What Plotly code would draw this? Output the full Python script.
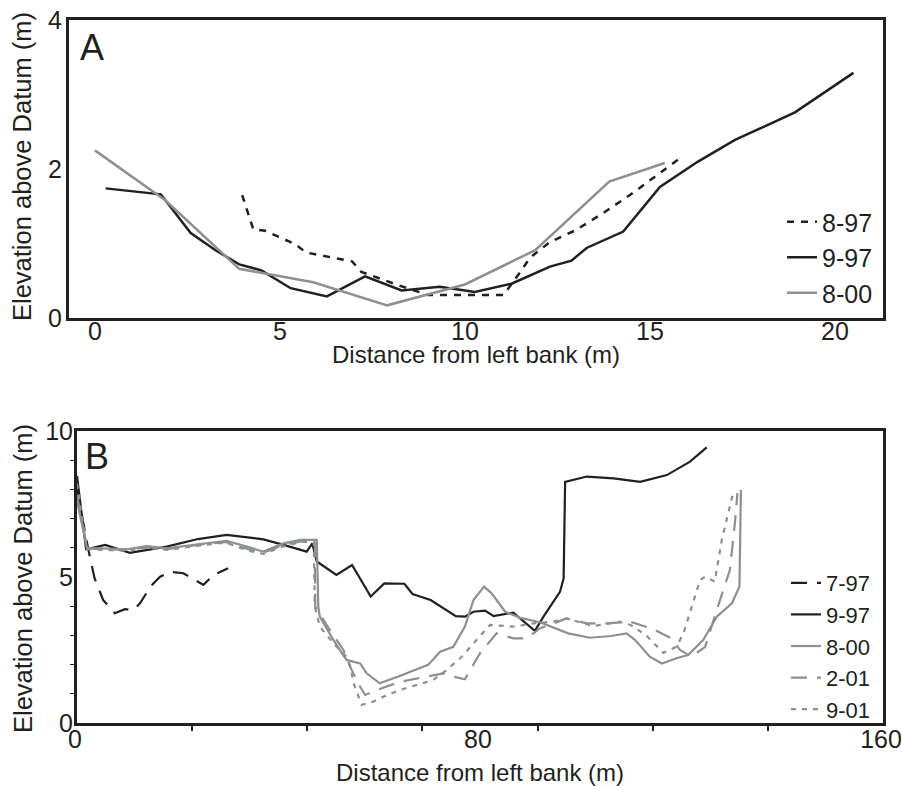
import plotly.graph_objects as go

# ---------------- Panel A data ----------------
a_897_x = [3.98, 4.28, 4.6, 5.42, 5.7, 6.95, 7.2, 8.2, 9.0, 11.05, 11.5, 11.76, 12.3, 13.0, 13.74, 14.46, 15.8]
a_897_y = [1.65, 1.19, 1.17, 0.99, 0.88, 0.76, 0.62, 0.44, 0.31, 0.31, 0.62, 0.81, 1.02, 1.18, 1.41, 1.65, 2.14]

a_997_x = [0.29, 1.78, 2.59, 3.26, 3.9, 4.5, 5.29, 6.27, 7.3, 8.29, 9.32, 10.27, 11.26, 12.3, 12.88,
           13.29, 14.28, 15.27, 16.3, 17.3, 18.92, 20.5]
a_997_y = [1.74, 1.66, 1.14, 0.91, 0.72, 0.64, 0.40, 0.29, 0.56, 0.37, 0.42, 0.35, 0.46, 0.69, 0.77,
           0.94, 1.16, 1.76, 2.10, 2.39, 2.76, 3.29]

a_800_x = [0, 1.9, 3.9, 5.9, 7.9, 10, 11.9, 13.9, 15.4]
a_800_y = [2.25, 1.58, 0.66, 0.48, 0.17, 0.45, 0.91, 1.83, 2.08]

a_x_ticks = [0, 5, 10, 15, 20]
a_y_ticks = [0, 2, 4]

# ---------------- Panel B data ----------------
b_797_x = [0, 2.2, 3.5, 5.2, 7.5, 9.5, 11.2, 12.5, 14.7, 16.5, 18.5, 21.1, 25.1, 27.1, 30]
b_797_y = [8.0, 5.98, 4.95, 4.21, 3.76, 3.9, 3.87, 4.1, 4.7, 5.01, 5.18, 5.13, 4.73, 5.07, 5.3]

b_997_x = [0, 1.8, 5.6, 10.5, 17.8, 24, 29.7, 37, 41, 45.6, 46.7, 47.6, 51.5, 54.6, 58.3, 61, 65, 66.6,
           70.2, 75.2, 77, 78.7, 81, 82.7, 86.6, 90.9, 92.6, 95.9, 96.6, 96.9, 101.2, 106.5, 111.8,
           117.1, 121.7, 125]
b_997_y = [8.46, 5.95, 6.1, 5.83, 6.04, 6.3, 6.44, 6.29, 6.1, 5.87, 6.15, 5.53, 5.07, 5.41, 4.33, 4.78,
           4.77, 4.42, 4.21, 3.66, 3.64, 3.81, 3.85, 3.66, 3.78, 3.16, 3.64, 4.5, 4.95, 8.26, 8.44, 8.38,
           8.26, 8.49, 8.95, 9.44]

b_800_x = [0, 2, 4.6, 9.9, 13.8, 17.8, 24.4, 29.7, 33.7, 37, 41, 44.3, 47.6, 47.9, 48.2, 50.9, 53.5,
           56.2, 57.5, 60.1, 63.8, 67.4, 69.7, 72.1, 74.7, 77, 78.7, 80.8, 82.3, 85, 88, 91.9, 97.5,
           101.8, 106, 109.1, 110.8, 113.7, 116.1, 119, 121.3, 124.3, 127, 130, 131.5, 131.8]
b_800_y = [7.6, 5.98, 5.98, 5.95, 6.06, 5.98, 6.13, 6.24, 6.04, 5.87, 6.15, 6.27, 6.27, 3.98, 3.64,
           2.84, 2.16, 2.04, 1.7, 1.36, 1.59, 1.82, 1.99, 2.44, 2.61, 3.3, 4.21, 4.67, 4.44, 3.81, 3.6,
           3.45, 3.07, 2.92, 2.98, 3.07, 2.84, 2.27, 2.04, 2.22, 2.33, 2.84, 3.64, 4.1, 4.67, 7.98]

b_201_x = [0, 2, 5, 10, 14, 18, 24, 29.5, 34, 37, 41, 44.5, 47.2, 47.3, 50.2, 52.9, 54.2, 56.2, 57.2,
           59.5, 64.1, 69.4, 72.7, 74.7, 77, 80, 83.3, 86.6, 89.3, 91.9, 97.2, 101.2, 105.1, 109.8,
           114.4, 118, 119.7, 122, 124.7, 127, 129.6, 130.6, 131.1]
b_201_y = [7.8, 5.98, 5.95, 5.93, 6.02, 5.95, 6.1, 6.2, 5.95, 5.83, 6.1, 6.22, 6.22, 3.98, 3.18, 2.5,
           1.93, 1.24, 0.96, 1.13, 1.41, 1.59, 1.7, 1.59, 1.5, 2.39, 3.07, 2.9, 2.9, 3.24, 3.58, 3.41,
           3.41, 3.47, 3.21, 2.9, 2.5, 2.27, 2.61, 3.87, 5.24, 6.84, 7.87]

b_901_x = [0, 2, 5, 10, 14, 18, 24, 29.5, 34, 37, 41, 44.5, 47.0, 47.2, 48.2, 50.9, 53.5, 54.3, 54.9,
           56.5, 58.8, 60.8, 64.1, 66.1, 70.7, 73.4, 76.4, 79.3, 82, 86.6, 90.6, 94.6, 97.2, 102.5,
           107.8, 110, 113, 116.4, 119, 120.4, 122.3, 123.7, 124.7, 126.6, 128, 129.3, 130.3]
b_901_y = [8.2, 5.95, 5.93, 5.9, 6.0, 5.93, 6.07, 6.18, 5.9, 5.79, 6.05, 6.2, 6.2, 4.0, 3.3, 2.73,
           2.27, 1.93, 1.36, 0.62, 0.73, 0.9, 1.13, 1.24, 1.47, 1.82, 2.27, 2.84, 3.36, 3.3, 3.41, 3.47,
           3.58, 3.32, 3.47, 3.35, 3.0, 2.4, 2.61, 3.07, 4.1, 4.9, 5.01, 4.84, 6.27, 7.18, 7.92]

b_x_ticks = [0, 80, 160]
b_x_minor = [160 / 7 * k for k in range(1, 7)]
b_y_ticks = [0, 5, 10]
b_y_minor = [1, 2, 3, 4, 6, 7, 8, 9]

x_title = "Distance from left bank (m)"
y_title = "Elevation above Datum (m)"

BLACK = "#231f20"
GRAY = "#8d9093"
FONT = "Liberation Sans, Arial, sans-serif"

fig = go.Figure()

# Panel A
fig.add_trace(go.Scatter(x=a_897_x, y=a_897_y, mode="lines", name="8-97", xaxis="x", yaxis="y",
                         legendgroup="a1",
                         line=dict(color=BLACK, width=2.5, dash="7px,7px"), legend="legend"))
fig.add_trace(go.Scatter(x=a_997_x, y=a_997_y, mode="lines", name="9-97", xaxis="x", yaxis="y",
                         legendgroup="a2",
                         line=dict(color=BLACK, width=2.5), legend="legend"))
fig.add_trace(go.Scatter(x=a_800_x, y=a_800_y, mode="lines", name="8-00", xaxis="x", yaxis="y",
                         legendgroup="a3",
                         line=dict(color=GRAY, width=2.5), legend="legend"))

# Panel B
fig.add_trace(go.Scatter(x=b_797_x, y=b_797_y, mode="lines", name="7-97", xaxis="x2", yaxis="y2",
                         line=dict(color=BLACK, width=2.2, dash="16px,10px"), legend="legend2"))
fig.add_trace(go.Scatter(x=b_997_x, y=b_997_y, mode="lines", name="9-97", xaxis="x2", yaxis="y2",
                         line=dict(color=BLACK, width=2.2), legend="legend2"))
fig.add_trace(go.Scatter(x=b_800_x, y=b_800_y, mode="lines", name="8-00", xaxis="x2", yaxis="y2",
                         line=dict(color=GRAY, width=2.2), legend="legend2"))
fig.add_trace(go.Scatter(x=b_201_x, y=b_201_y, mode="lines", name="2-01", xaxis="x2", yaxis="y2",
                         line=dict(color=GRAY, width=2.2, dash="16px,10px"), legend="legend2"))
fig.add_trace(go.Scatter(x=b_901_x, y=b_901_y, mode="lines", name="9-01", xaxis="x2", yaxis="y2",
                         line=dict(color=GRAY, width=2.2, dash="5px,6px"), legend="legend2"))

W, H = 902, 786
axis_common = dict(showline=True, mirror=True, linewidth=3, linecolor=BLACK, showgrid=False,
                   zeroline=False, automargin=False, ticklabeloverflow="allow",
                   tickfont=dict(size=25, color=BLACK, family=FONT))

fig.update_layout(
    template="none",
    width=W, height=H, autosize=False,
    margin=dict(l=0, r=0, t=0, b=0, pad=0),
    paper_bgcolor="white", plot_bgcolor="white",
    font=dict(family=FONT, color=BLACK),
    showlegend=True,
    xaxis=dict(domain=[69 / W, 883 / W], range=[-0.7, 21.3], tickvals=a_x_ticks, ticks="",
               anchor="y", ticklabelstandoff=-11, **axis_common),
    yaxis=dict(domain=[1 - 318 / H, 1 - 20 / H], range=[0, 4], tickvals=a_y_ticks, ticks="",
               anchor="x", ticklabelstandoff=-1, **axis_common),
    xaxis2=dict(domain=[77 / W, 883 / W], range=[0, 160], tickvals=b_x_ticks, ticks="",
                anchor="y2", ticklabelstandoff=-8, ticklabelshift=-2,
                minor=dict(tickmode="array", tickvals=b_x_minor, ticks="outside", ticklen=5,
                           tickwidth=1.5, tickcolor=BLACK),
                **axis_common),
    yaxis2=dict(domain=[1 - 723 / H, 1 - 431 / H], range=[0, 10], tickvals=b_y_ticks, ticks="",
                anchor="x2", ticklabelstandoff=-4,
                minor=dict(tickmode="array", tickvals=b_y_minor, ticks="outside", ticklen=4,
                           tickwidth=1.2, tickcolor=BLACK),
                **axis_common),
    legend=dict(x=782 / W, y=1 - 199 / H, xanchor="left", yanchor="top",
                bgcolor="rgba(0,0,0,0)", font=dict(size=25, color=BLACK),
                tracegroupgap=0, borderwidth=0),
    legend2=dict(x=786 / W, y=1 - 562 / H, xanchor="left", yanchor="top",
                 bgcolor="rgba(0,0,0,0)", font=dict(size=22, color=BLACK), borderwidth=0),
    annotations=[
        dict(text="A", x=92 / W, y=1 - 47 / H, xref="paper", yref="paper", showarrow=False,
             xanchor="center", yanchor="middle",
             font=dict(size=36, color=BLACK, family=FONT)),
        dict(text="B", x=97 / W, y=1 - 457 / H, xref="paper", yref="paper", showarrow=False,
             xanchor="center", yanchor="middle",
             font=dict(size=36, color=BLACK, family=FONT)),
        dict(text=x_title, x=476 / W, y=1 - 355 / H, xref="paper", yref="paper", showarrow=False,
             xanchor="center", yanchor="middle", font=dict(size=24, color=BLACK, family=FONT)),
        dict(text=x_title, x=480 / W, y=1 - 772 / H, xref="paper", yref="paper", showarrow=False,
             xanchor="center", yanchor="middle", font=dict(size=24, color=BLACK, family=FONT)),
        dict(text=y_title, x=22 / W, y=1 - 167 / H, xref="paper", yref="paper", showarrow=False,
             textangle=-90, xanchor="center", yanchor="middle",
             font=dict(size=25.5, color=BLACK, family=FONT)),
        dict(text=y_title, x=23 / W, y=1 - 579 / H, xref="paper", yref="paper", showarrow=False,
             textangle=-90, xanchor="center", yanchor="middle",
             font=dict(size=25.5, color=BLACK, family=FONT)),
    ],
)

fig.write_html("out.html")
